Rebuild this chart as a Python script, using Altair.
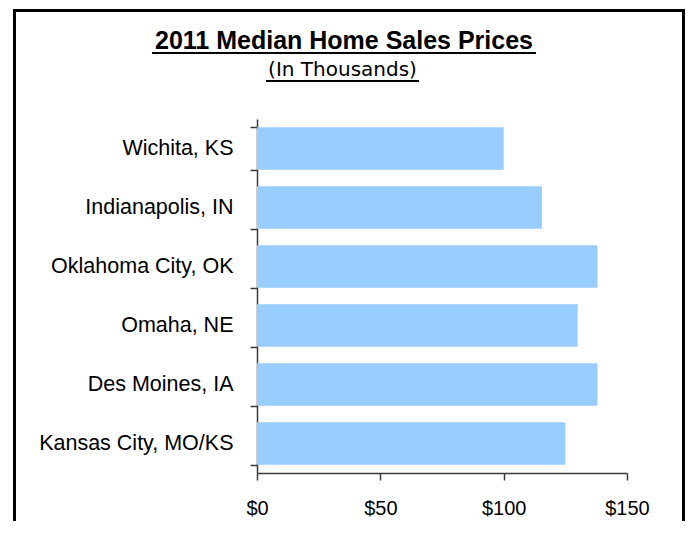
import altair as alt
import pandas as pd

cities = ["Wichita, KS", "Indianapolis, IN", "Oklahoma City, OK",
          "Omaha, NE", "Des Moines, IA", "Kansas City, MO/KS"]
prices = [100, 115.5, 138, 130, 138, 125]
x_ticks = [0, 50, 100, 150]
title_text = ["2011 Median Home Sales Prices"]
subtitle_text = ["(In Thousands)"]

df = pd.DataFrame({"city": cities, "price": prices})

W, H = 370, 354
AXIS_COLOR = "#3a3a3a"

bars = alt.Chart(df).mark_bar(color="#99CCFF").encode(
    x=alt.X("price:Q",
            scale=alt.Scale(domain=[0, 150], nice=False, zero=True),
            axis=alt.Axis(values=x_ticks, format="$.0f", title=None, grid=False,
                          labelFont="Liberation Sans", labelFontSize=20,
                          labelColor="black", labelPadding=18, labelFlush=False,
                          tickSize=7, tickWidth=1.5, tickColor=AXIS_COLOR,
                          domainColor=AXIS_COLOR, domainWidth=1.5)),
    y=alt.Y("city:N", sort=cities,
            scale=alt.Scale(paddingInner=0.277, paddingOuter=0.1385),
            axis=alt.Axis(title=None, tickBand="extent", grid=False,
                          labelFont="Liberation Sans", labelFontSize=21.5,
                          labelColor="black", labelPadding=17, labelLimit=0,
                          tickSize=7, tickWidth=1.5, tickColor=AXIS_COLOR,
                          domainColor=AXIS_COLOR, domainWidth=1.5)),
)

one = pd.DataFrame({"k": [0]})

title = alt.Chart(pd.DataFrame({"t": title_text})).mark_text(
    font="Liberation Sans", fontSize=25, fontWeight="bold", color="black",
    align="center", baseline="alphabetic"
).encode(text="t:N", x=alt.value(87), y=alt.value(-70))

title_ul = alt.Chart(one).mark_rule(color="black", strokeWidth=2).encode(
    x=alt.value(-105), x2=alt.value(279), y=alt.value(-66))

subtitle = alt.Chart(pd.DataFrame({"t": subtitle_text})).mark_text(
    font="DejaVu Sans", fontSize=20, color="black",
    align="center", baseline="alphabetic"
).encode(text="t:N", x=alt.value(85.5), y=alt.value(-43.3))

subtitle_ul = alt.Chart(one).mark_rule(color="black", strokeWidth=1.8).encode(
    x=alt.value(9), x2=alt.value(162), y=alt.value(-38))

frame = alt.Chart(one).mark_rect(filled=False, stroke="black", strokeWidth=3).encode(
    x=alt.value(-242.5), x2=alt.value(426.5), y=alt.value(-108.5), y2=alt.value(460))

chart = alt.layer(frame, bars, title, title_ul, subtitle, subtitle_ul).properties(
    width=W, height=H,
    autosize=alt.AutoSizeParams(type="none"),
    padding={"left": 249, "top": 111, "right": 58, "bottom": 48},
    background="white",
).configure_view(strokeWidth=0)

chart.save("out.html", embed_options={"renderer": "svg", "actions": False})
